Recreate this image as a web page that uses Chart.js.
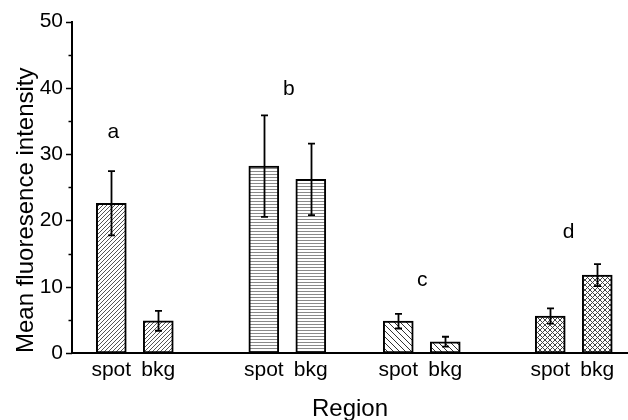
<!DOCTYPE html>
<html><head><meta charset="utf-8">
<script src="https://cdn.jsdelivr.net/npm/chart.js@4.4.1/dist/chart.umd.min.js"></script>
<style>html,body{margin:0;padding:0;overflow:hidden;background:#fff}#wrap{width:628px;height:420px;position:relative}</style>
</head><body><div id="wrap"><canvas id="c"></canvas></div>
<script>
// ---- data ----
const tickLabels   = ['spot','bkg','spot','bkg','spot','bkg','spot','bkg'];
const barX         = [1, 2, 4.245, 5.245, 7.106, 8.106, 10.34, 11.34];
const meanValues   = [22.6, 4.86, 28.2, 26.2, 4.8, 1.7, 5.57, 11.75];
const errorValues  = [4.85, 1.5, 7.65, 5.4, 1.1, 0.75, 1.15, 1.65];
const groupOfBar   = [0, 0, 1, 1, 2, 2, 3, 3];
const groupLetters = ['a', 'b', 'c', 'd'];
const letterX      = [1.043, 4.777, 7.617, 10.728];
const letterY      = [32.5, 38.86, 10.14, 17.3];

const FONT = '"Liberation Sans", Arial, sans-serif';

function makePattern(kind) {
  const s = {diag: 4, horiz: 3, back: 6, cross: 5}[kind];
  const c = document.createElement('canvas');
  c.width = s; c.height = s;
  const g = c.getContext('2d');
  g.fillStyle = '#fff'; g.fillRect(0, 0, s, s);
  g.strokeStyle = '#555'; g.fillStyle = '#8a8a8a'; g.lineWidth = 1;
  const fwd = () => { for (const o of [-s, 0, s]) { g.beginPath(); g.moveTo(o - 1, s + 1); g.lineTo(o + s + 1, -1); g.stroke(); } };
  const bwd = () => { for (const o of [-s, 0, s]) { g.beginPath(); g.moveTo(o - 1, -1); g.lineTo(o + s + 1, s + 1); g.stroke(); } };
  if (kind === 'diag') fwd();
  else if (kind === 'back') { g.strokeStyle = '#333'; bwd(); }
  else if (kind === 'cross') { g.strokeStyle = '#444'; fwd(); bwd(); }
  else if (kind === 'horiz') { g.fillRect(0, 0, s, 1); }
  return g.createPattern(c, 'repeat');
}
const patterns = [makePattern('diag'), makePattern('horiz'), makePattern('back'), makePattern('cross')];

const extras = {
  id: 'extras',
  afterDraw(chart) {
    const ctx = chart.ctx, xs = chart.scales.x, ys = chart.scales.y;
    const left = chart.chartArea.left;
    ctx.save();
    // y tick marks (major and minor)
    ctx.strokeStyle = '#000'; ctx.lineWidth = 1.5;
    const tv = ys.ticks.map(t => t.value);
    tv.forEach((v, i) => {
      const py = Math.round(ys.getPixelForValue(v)) + 0.5;
      ctx.beginPath(); ctx.moveTo(left - 6, py); ctx.lineTo(left, py); ctx.stroke();
      if (i < tv.length - 1) {
        const pm = Math.round(ys.getPixelForValue((v + tv[i + 1]) / 2)) + 0.5;
        ctx.beginPath(); ctx.moveTo(left - 3.5, pm); ctx.lineTo(left, pm); ctx.stroke();
      }
    });
    // error bars
    ctx.lineWidth = 1.8;
    barX.forEach((x, i) => {
      const px = Math.round(xs.getPixelForValue(x)) + 0.5;
      const t = ys.getPixelForValue(meanValues[i] + errorValues[i]);
      const b = ys.getPixelForValue(meanValues[i] - errorValues[i]);
      ctx.beginPath();
      ctx.moveTo(px, t); ctx.lineTo(px, b);
      ctx.moveTo(px - 3.5, t); ctx.lineTo(px + 3.5, t);
      ctx.moveTo(px - 3.5, b); ctx.lineTo(px + 3.5, b);
      ctx.stroke();
    });
    // group letters
    ctx.fillStyle = '#000';
    ctx.font = '21px ' + FONT;
    ctx.textAlign = 'center'; ctx.textBaseline = 'alphabetic';
    groupLetters.forEach((L, i) => {
      ctx.fillText(L, xs.getPixelForValue(letterX[i]), ys.getPixelForValue(letterY[i]));
    });
    ctx.restore();
  }
};

new Chart(document.getElementById('c'), {
  type: 'bar',
  data: {
    datasets: [{
      data: barX.map((x, i) => ({x: x, y: meanValues[i]})),
      backgroundColor: groupOfBar.map(g => patterns[g]),
      borderColor: '#000',
      borderWidth: 2,
      borderSkipped: false,
      barThickness: 30
    }]
  },
  options: {
    responsive: true,
    maintainAspectRatio: false,
    animation: false,
    devicePixelRatio: 1,
    layout: {padding: {top: 21, right: 0, bottom: 0, left: 0}},
    plugins: {legend: {display: false}, tooltip: {enabled: false}},
    scales: {
      x: {
        type: 'linear',
        offset: false,
        min: 0.164, max: 11.994,
        grid: {display: false, drawTicks: false, offset: false},
        border: {display: true, color: '#000', width: 2},
        afterBuildTicks: s => { s.ticks = barX.map(v => ({value: v})); },
        ticks: {autoSkip: false, maxRotation: 0, padding: 5, color: '#000',
                font: {family: FONT, size: 21},
                callback: (v, i) => tickLabels[i]},
        title: {display: true, text: 'Region', color: '#000',
                font: {family: FONT, size: 24, lineHeight: 0.9}, padding: 0},
        afterFit: s => { s.height = 67; }
      },
      y: {
        min: 0, max: 50,
        grid: {display: false, drawTicks: false},
        border: {display: true, color: '#000', width: 2},
        ticks: {stepSize: 10, padding: 9, color: '#000', font: {family: FONT, size: 21}},
        title: {display: true, text: 'Mean fluoresence intensity', color: '#000', align: 'start',
                font: {family: FONT, size: 24}, padding: {top: 12, bottom: 0}},
        afterFit: s => { s.width = 72; }
      }
    }
  },
  plugins: [extras]
});
</script>
</body></html>
